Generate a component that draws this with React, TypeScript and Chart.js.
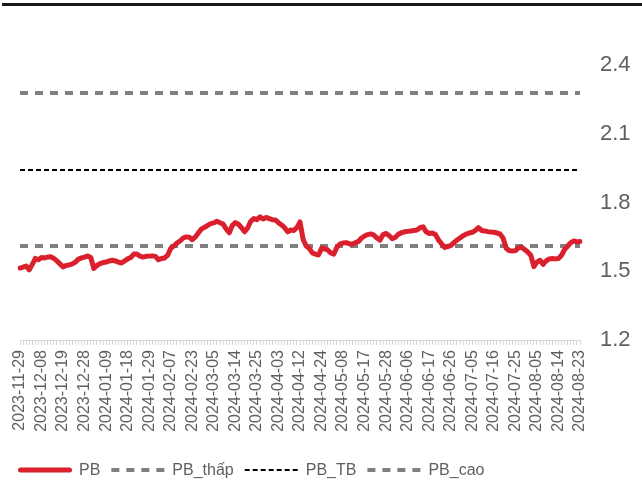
import React, { useEffect, useRef } from "react";
import { Chart, registerables } from "chart.js";

Chart.register(...registerables);

const tickLabels = [
  "2023-11-29", "2023-12-08", "2023-12-19", "2023-12-28", "2024-01-09", "2024-01-18",
  "2024-01-29", "2024-02-07", "2024-02-23", "2024-03-05", "2024-03-14", "2024-03-25",
  "2024-04-03", "2024-04-12", "2024-04-24", "2024-05-08", "2024-05-17", "2024-05-28",
  "2024-06-06", "2024-06-17", "2024-06-26", "2024-07-05", "2024-07-16", "2024-07-25",
  "2024-08-05", "2024-08-14", "2024-08-23",
];
const daysPerTick = 7;

const pb = [
  1.514, 1.518, 1.523, 1.506, 1.530, 1.556, 1.550, 1.560, 1.558, 1.562,
  1.563, 1.556, 1.545, 1.532, 1.519, 1.525, 1.528, 1.532, 1.540, 1.553,
  1.558, 1.562, 1.567, 1.560, 1.512, 1.525, 1.533, 1.538, 1.540, 1.545,
  1.548, 1.545, 1.540, 1.536, 1.545, 1.554, 1.560, 1.575, 1.575, 1.566,
  1.562, 1.565, 1.566, 1.567, 1.565, 1.550, 1.556, 1.558, 1.570, 1.600,
  1.610, 1.623, 1.632, 1.645, 1.650, 1.648, 1.638, 1.650, 1.668, 1.685,
  1.692, 1.700, 1.708, 1.711, 1.718, 1.712, 1.706, 1.685, 1.668, 1.700,
  1.712, 1.705, 1.690, 1.672, 1.690, 1.718, 1.730, 1.725, 1.737, 1.728,
  1.735, 1.730, 1.725, 1.724, 1.712, 1.702, 1.690, 1.672, 1.680, 1.678,
  1.690, 1.715, 1.640, 1.610, 1.600, 1.580, 1.575, 1.571, 1.600, 1.598,
  1.593, 1.580, 1.575, 1.605, 1.619, 1.623, 1.625, 1.620, 1.618, 1.625,
  1.630, 1.645, 1.654, 1.660, 1.663, 1.658, 1.645, 1.636, 1.660, 1.665,
  1.655, 1.642, 1.648, 1.662, 1.668, 1.672, 1.674, 1.676, 1.678, 1.680,
  1.690, 1.694, 1.672, 1.665, 1.667, 1.660, 1.637, 1.620, 1.604, 1.608,
  1.612, 1.625, 1.636, 1.645, 1.655, 1.662, 1.667, 1.670, 1.678, 1.690,
  1.678, 1.676, 1.673, 1.671, 1.670, 1.667, 1.663, 1.645, 1.600, 1.590,
  1.588, 1.590, 1.602, 1.605, 1.595, 1.584, 1.570, 1.520, 1.540, 1.548,
  1.530, 1.545, 1.554, 1.556, 1.554, 1.556, 1.570, 1.595, 1.610, 1.625,
  1.632, 1.628, 1.630,
];

const pbThap = 1.61;
const pbTB = 1.942;
const pbCao = 2.278;

const yTicks = [1.2, 1.5, 1.8, 2.1, 2.4];

const FONT = "'Liberation Sans', Arial, sans-serif";
const TEXT = "#5f5f5f";

const legendPlugin = {
  id: "dashLegend",
  afterDraw(c: any) {
    const ctx = c.ctx as CanvasRenderingContext2D;
    const fontSize = 16;
    const sampleW = 54;
    const y = 470;
    let x = 18;
    ctx.save();
    ctx.font = `${fontSize}px ${FONT}`;
    ctx.textBaseline = "middle";
    ctx.textAlign = "left";
    c.data.datasets.forEach((ds: any) => {
      ctx.save();
      ctx.strokeStyle = ds.borderColor;
      ctx.lineWidth = ds.borderWidth;
      ctx.lineCap = ds.borderCapStyle || "butt";
      ctx.setLineDash(ds.borderDash || []);
      ctx.beginPath();
      const inset = ctx.lineCap === "round" ? ds.borderWidth / 2 : 0;
      ctx.moveTo(x + inset, y);
      ctx.lineTo(x + sampleW - inset, y);
      ctx.stroke();
      ctx.restore();
      const tx = x + sampleW + 7;
      ctx.fillStyle = TEXT;
      ctx.fillText(ds.label, tx, y + 1);
      x = tx + ctx.measureText(ds.label).width + 11;
    });
    ctx.restore();
  },
};

export default function App() {
  const ref = useRef<HTMLCanvasElement | null>(null);

  useEffect(() => {
    if (!ref.current) return;
    const labels = pb.map((_, i) => (i % daysPerTick === 0 ? tickLabels[i / daysPerTick] ?? "" : ""));
    const chart = new Chart(ref.current, {
      type: "line",
      data: {
        labels,
        datasets: [
          {
            label: "PB",
            data: pb,
            borderColor: "#D9202C",
            backgroundColor: "#D9202C",
            borderWidth: 5,
            borderCapStyle: "round",
            borderJoinStyle: "round",
            pointRadius: 0,
            tension: 0,
          },
          {
            label: "PB_thấp",
            data: pb.map(() => pbThap),
            borderColor: "#7F7F7F",
            backgroundColor: "#7F7F7F",
            borderWidth: 4,
            borderDash: [8, 7],
            pointRadius: 0,
          },
          {
            label: "PB_TB",
            data: pb.map(() => pbTB),
            borderColor: "#000000",
            backgroundColor: "#000000",
            borderWidth: 2,
            borderDash: [5, 3],
            pointRadius: 0,
          },
          {
            label: "PB_cao",
            data: pb.map(() => pbCao),
            borderColor: "#7F7F7F",
            backgroundColor: "#7F7F7F",
            borderWidth: 4,
            borderDash: [8, 7],
            pointRadius: 0,
          },
        ],
      },
      options: {
        responsive: false,
        animation: false,
        layout: { padding: { left: 20, right: 0, top: 65, bottom: 47 } },
        plugins: {
          tooltip: { enabled: false },
          legend: { display: false },
        },
        scales: {
          x: {
            type: "category",
            offset: false,
            grid: {
              display: true,
              drawOnChartArea: false,
              drawTicks: true,
              tickLength: 5,
              color: "#D9D9D9",
            },
            border: { display: true, color: "#D9D9D9" },
            ticks: {
              autoSkip: false,
              minRotation: 90,
              maxRotation: 90,
              padding: 5,
              color: TEXT,
              font: { family: FONT, size: 16 },
            },
            afterFit: (s: any) => {
              s.height = 113;
            },
          },
          y: {
            position: "right",
            min: 1.2,
            max: 2.4,
            grid: { display: false },
            border: { display: false },
            afterBuildTicks: (s: any) => {
              s.ticks = yTicks.map((v) => ({ value: v }));
            },
            ticks: {
              padding: 12,
              color: TEXT,
              font: { family: FONT, size: 22 },
              callback: (v: any) => Number(v).toFixed(1),
            },
            afterFit: (s: any) => {
              s.width = 62;
            },
          },
        },
      },
      plugins: [legendPlugin],
    });
    return () => chart.destroy();
  }, []);

  return (
    <div style={{ position: "fixed", left: 0, top: 0, width: 642, height: 500, background: "#fff" }}>
      <div style={{ position: "absolute", left: 2, top: 3, width: 640, height: 3, background: "#1a1a1a" }} />
      <canvas ref={ref} width={642} height={500} style={{ position: "absolute", left: 0, top: 0 }} />
    </div>
  );
}
